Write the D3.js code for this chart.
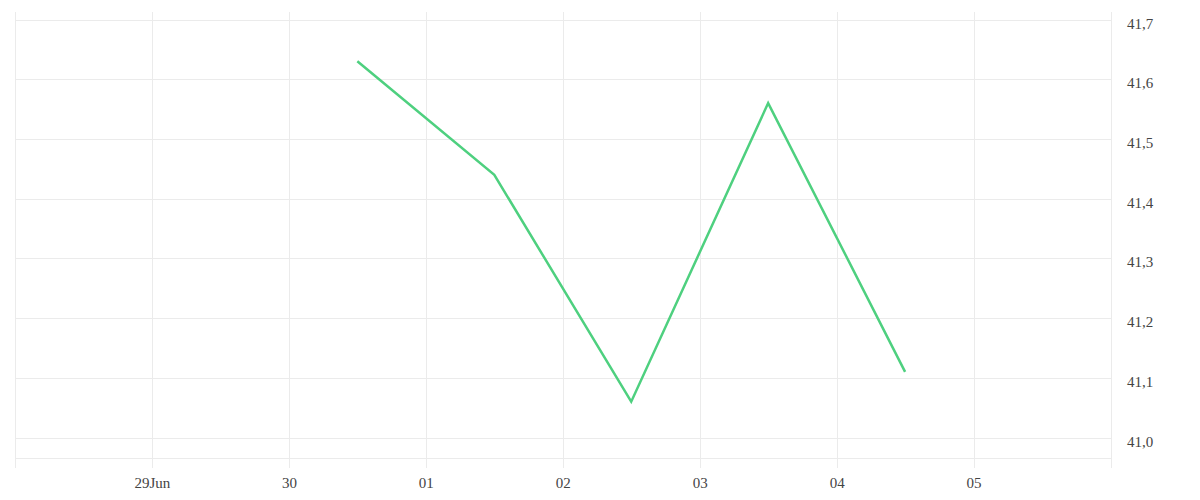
<!DOCTYPE html>
<html>
<head>
<meta charset="utf-8">
<script src="https://cdn.jsdelivr.net/npm/d3@7"></script>
<style>
  html, body { margin: 0; padding: 0; background: #fff; }
  svg { display: block; }
  text { font-family: "Liberation Serif", "Times New Roman", serif; font-size: 15px; fill: #444; }
</style>
</head>
<body>
<svg id="chart" width="1200" height="500"></svg>
<script>
// ---- data ----
const dates = ["2023-06-30T12:00", "2023-07-01T12:00", "2023-07-02T12:00", "2023-07-03T12:00", "2023-07-04T12:00"];
const values = [41.63, 41.44, 41.06, 41.56, 41.11];
const xTickDates = ["2023-06-28", "2023-06-29", "2023-06-30", "2023-07-01", "2023-07-02", "2023-07-03", "2023-07-04", "2023-07-05", "2023-07-06"];
const xTickLabels = ["", "29Jun", "30", "01", "02", "03", "04", "05", ""];
const yTickValues = [41.0, 41.1, 41.2, 41.3, 41.4, 41.5, 41.6, 41.7];
const yTickLabels = ["41,0", "41,1", "41,2", "41,3", "41,4", "41,5", "41,6", "41,7"];

(function () {
const parse = s => new Date(s + (s.length > 10 ? ":00Z" : "T00:00:00Z"));

const mLeft = 15, mRight = 1110.5, mTop = 12, mBottom = 458, tickBottom = 468;

const svg = d3.select("#chart");

const x = d3.scaleUtc()
  .domain([parse(xTickDates[0]), parse(xTickDates[xTickDates.length - 1])])
  .range([mLeft, mRight]);

// y: 41.0 at 437.5, 41.7 at 19.5
const y = d3.scaleLinear().domain([41.0, 41.7]).range([437.5, 19.5]);

const grid = svg.append("g").attr("stroke", "#ebebeb").attr("stroke-width", 1).attr("shape-rendering", "crispEdges");

grid.selectAll("line.h")
  .data(yTickValues)
  .join("line")
  .attr("class", "h")
  .attr("x1", mLeft).attr("x2", mRight)
  .attr("y1", d => Math.round(y(d)) + 0.5)
  .attr("y2", d => Math.round(y(d)) + 0.5);

grid.append("line")
  .attr("x1", mLeft).attr("x2", mRight)
  .attr("y1", mBottom + 0.5).attr("y2", mBottom + 0.5);

grid.selectAll("line.v")
  .data(xTickDates)
  .join("line")
  .attr("class", "v")
  .attr("x1", d => Math.round(x(parse(d))) + 0.5)
  .attr("x2", d => Math.round(x(parse(d))) + 0.5)
  .attr("y1", mTop).attr("y2", tickBottom);

svg.append("g").selectAll("text")
  .data(xTickDates.map((d, i) => ({ d, label: xTickLabels[i] })).filter(o => o.label))
  .join("text")
  .attr("x", o => x(parse(o.d)) + 0.5)
  .attr("y", 488)
  .attr("text-anchor", "middle")
  .text(o => o.label);

svg.append("g").selectAll("text")
  .data(yTickValues.map((v, i) => ({ v, label: yTickLabels[i] })))
  .join("text")
  .attr("x", 1127)
  .attr("y", o => y(o.v) + 9)
  .attr("text-anchor", "start")
  .text(o => o.label);

const pts = dates.map((d, i) => [parse(d), values[i]]);
svg.append("path")
  .datum(pts)
  .attr("fill", "none")
  .attr("stroke", "#4ed07f")
  .attr("stroke-width", 2.5)
  .attr("stroke-linejoin", "miter")
  .attr("d", d3.line().x(p => x(p[0])).y(p => y(p[1])));
})();
</script>
</body>
</html>
